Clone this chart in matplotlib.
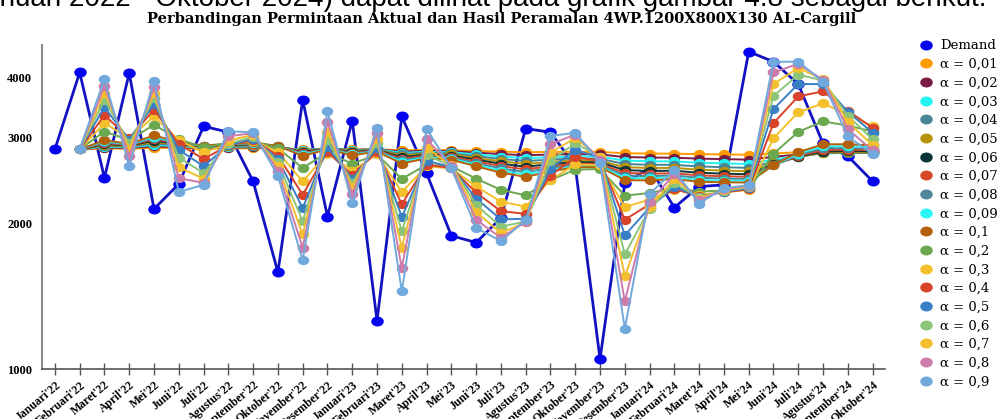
import numpy as np
import matplotlib.pyplot as plt
from matplotlib.path import Path
from matplotlib.lines import Line2D

months = ["Januari'22", "Februari'22", "Maret'22", "April'22", "Mei'22", "Juni'22", "Juli'22",
          "Agustus'22", "September'22", "Oktober'22", "November'22", "Desember'22",
          "Januari'23", "Februari'23", "Maret'23", "April'23", "Mei'23", "Juni'23", "Juli'23",
          "Agustus'23", "September'23", "Oktober'23", "November'23", "Desember'23",
          "Januari'24", "Februari'24", "Maret'24", "April'24", "Mei'24", "Juni'24", "Juli'24",
          "Agustus'24", "September'24", "Oktober'24"]

demand = [2840, 4090, 2480, 4080, 2140, 2410, 3170, 3080, 2440, 1585, 3590, 2065,
          3255, 1258, 3320, 2535, 1885, 1825, 2050, 3135, 3080, 2620, 1050, 2420,
          2600, 2155, 2380, 2400, 4515, 4305, 3870, 2920, 2750, 2440]

# forecast values per alpha (no forecast for the first month)
f_001 = [None, 2840, 2852, 2849, 2861, 2854, 2849, 2853, 2855, 2851, 2838, 2846, 2838, 2842, 2826, 2831, 2828,
         2819, 2809, 2801, 2805, 2807, 2805, 2788, 2784, 2782, 2776, 2772, 2768, 2786, 2801, 2812, 2813, 2812]
f_002 = [None, 2840, 2865, 2857, 2882, 2867, 2858, 2864, 2868, 2860, 2834, 2849, 2834, 2842, 2810, 2821, 2815,
         2796, 2777, 2762, 2770, 2776, 2773, 2738, 2732, 2729, 2718, 2711, 2705, 2741, 2772, 2794, 2797, 2796]
f_003 = [None, 2840, 2877, 2866, 2902, 2879, 2865, 2874, 2880, 2867, 2829, 2852, 2828, 2841, 2793, 2809, 2801,
         2773, 2745, 2724, 2736, 2747, 2743, 2692, 2684, 2681, 2666, 2657, 2649, 2705, 2753, 2787, 2791, 2790]
f_004 = [None, 2840, 2890, 2874, 2922, 2891, 2871, 2883, 2891, 2873, 2822, 2852, 2821, 2838, 2775, 2797, 2786,
         2750, 2713, 2687, 2705, 2720, 2716, 2649, 2640, 2638, 2619, 2609, 2601, 2678, 2743, 2788, 2793, 2791]
f_005 = [None, 2840, 2902, 2881, 2941, 2901, 2877, 2891, 2901, 2878, 2813, 2852, 2813, 2835, 2756, 2784, 2772,
         2727, 2682, 2651, 2675, 2695, 2691, 2609, 2600, 2600, 2578, 2568, 2559, 2657, 2739, 2796, 2802, 2800]
f_006 = [None, 2840, 2915, 2889, 2960, 2911, 2881, 2898, 2909, 2881, 2803, 2851, 2803, 2831, 2736, 2771, 2757,
         2705, 2652, 2616, 2647, 2673, 2670, 2573, 2563, 2566, 2541, 2531, 2523, 2643, 2743, 2810, 2817, 2813]
f_007 = [None, 2840, 2928, 2896, 2979, 2920, 2885, 2905, 2917, 2883, 2793, 2848, 2794, 2826, 2716, 2758, 2743,
         2683, 2623, 2583, 2621, 2653, 2651, 2539, 2531, 2535, 2509, 2500, 2493, 2634, 2751, 2830, 2836, 2830]
f_008 = [None, 2840, 2940, 2903, 2997, 2929, 2887, 2910, 2923, 2885, 2781, 2846, 2783, 2821, 2696, 2746, 2729,
         2661, 2594, 2551, 2598, 2636, 2635, 2508, 2501, 2509, 2481, 2473, 2467, 2631, 2765, 2853, 2858, 2850]
f_009 = [None, 2840, 2952, 2910, 3015, 2937, 2889, 2914, 2929, 2885, 2768, 2842, 2772, 2816, 2676, 2734, 2716,
         2641, 2567, 2521, 2576, 2622, 2621, 2480, 2475, 2486, 2456, 2449, 2445, 2631, 2782, 2880, 2883, 2871]
f_01 = [None, 2840, 2965, 2916, 3033, 2944, 2890, 2918, 2934, 2885, 2755, 2838, 2761, 2810, 2655, 2722, 2703,
        2621, 2542, 2492, 2557, 2609, 2610, 2454, 2451, 2466, 2435, 2429, 2426, 2635, 2802, 2909, 2910, 2894]
f_02 = [None, 2840, 3090, 2968, 3190, 2980, 2866, 2927, 2958, 2854, 2600, 2798, 2652, 2772, 2469, 2640, 2619,
        2472, 2343, 2284, 2454, 2579, 2587, 2280, 2308, 2366, 2324, 2335, 2348, 2782, 3086, 3243, 3178, 3093]
f_03 = [None, 2840, 3215, 2994, 3320, 2966, 2799, 2910, 2961, 2805, 2439, 2784, 2568, 2774, 2320, 2620, 2594,
        2381, 2215, 2165, 2456, 2643, 2636, 2160, 2238, 2347, 2289, 2316, 2342, 2994, 3387, 3532, 3348, 3169]
f_04 = [None, 2840, 3340, 2996, 3430, 2914, 2712, 2895, 2969, 2758, 2289, 2809, 2511, 2809, 2189, 2641, 2599,
        2313, 2118, 2091, 2508, 2737, 2690, 2034, 2188, 2353, 2274, 2316, 2350, 3216, 3652, 3739, 3411, 3147]
f_05 = [None, 2840, 3465, 2972, 3526, 2833, 2622, 2896, 2988, 2714, 2149, 2870, 2467, 2861, 2060, 2690, 2612,
        2249, 2037, 2043, 2589, 2835, 2727, 1889, 2154, 2377, 2266, 2323, 2362, 3438, 3872, 3871, 3395, 3073]
f_06 = [None, 2840, 3590, 2924, 3618, 2731, 2538, 2917, 3015, 2670, 2019, 2962, 2424, 2922, 1924, 2762, 2626,
        2181, 1967, 2017, 2688, 2923, 2741, 1726, 2143, 2417, 2260, 2332, 2373, 3658, 4046, 3940, 3328, 2981]
f_07 = [None, 2840, 3715, 2850, 3711, 2611, 2470, 2960, 3044, 2621, 1896, 3082, 2370, 2990, 1777, 2857, 2632,
        2109, 1910, 2008, 2797, 2995, 2733, 1555, 2160, 2468, 2249, 2341, 2382, 3875, 4176, 3962, 3233, 2895]
f_08 = [None, 2840, 3840, 2752, 3814, 2475, 2423, 3021, 3068, 2566, 1781, 3228, 2298, 3064, 1619, 2980, 2624,
        2033, 1867, 2013, 2911, 3046, 2705, 1381, 2212, 2522, 2228, 2350, 2390, 4090, 4262, 3948, 3126, 2825]
f_09 = [None, 2840, 3965, 2628, 3935, 2319, 2401, 3093, 3081, 2504, 1677, 3399, 2198, 3149, 1447, 3133, 2595,
        1956, 1838, 2029, 3024, 3074, 2665, 1212, 2299, 2570, 2196, 2362, 2396, 4303, 4305, 3913, 3019, 2777]

forecasts = [f_001, f_002, f_003, f_004, f_005, f_006, f_007, f_008, f_009,
             f_01, f_02, f_03, f_04, f_05, f_06, f_07, f_08, f_09]
labels = ["α = 0,01", "α = 0,02", "α = 0,03", "α = 0,04", "α = 0,05", "α = 0,06",
          "α = 0,07", "α = 0,08", "α = 0,09", "α = 0,1", "α = 0,2", "α = 0,3",
          "α = 0,4", "α = 0,5", "α = 0,6", "α = 0,7", "α = 0,8", "α = 0,9"]
colors = ["#FF9A00", "#7A1B45", "#22F2F2", "#4A8596", "#B8920A", "#0B3538",
          "#D7482B", "#4D8799", "#2CF5F5", "#B5600C", "#6BA84F", "#F3C02C",
          "#D8432A", "#3A7FC6", "#8CC57A", "#F4BF2E", "#CC7BAA", "#72A9DD"]

# slightly wide oval markers like the reference
circ = Path.unit_circle()
oval = Path(circ.vertices * [1.3, 1.0], circ.codes)

serif = "Liberation Serif"

fig = plt.figure(figsize=(9.98, 4.19), dpi=100)
ax = fig.add_axes([42 / 998, 1 - 369.3 / 419, 843 / 998, 324.3 / 419])
x = np.arange(len(months))

ax.plot(x, demand, color="#1212C2", lw=2.0, marker=oval, ms=8,
        mfc="#0303F0", mec="#0303F0", zorder=2)
for vals, c in zip(forecasts, colors):
    ax.plot(x, np.array(vals, dtype=float), color=c, lw=1.4, marker=oval, ms=7.3,
            mfc=c, mec=c, zorder=3)

ax.set_yscale("log")
ax.set_ylim(1000, 4660)
ax.set_xlim(-0.52, 33.5)
ax.minorticks_off()
ax.set_yticks([1000, 2000, 3000, 4000])
ax.set_yticklabels(["1000", "2000", "3000", "4000"], fontfamily=serif,
                   fontweight="bold", fontsize=9)
ax.tick_params(axis="y", length=0, pad=7)
ax.set_xticks(x)
ax.set_xticklabels(months, rotation=40, ha="right", rotation_mode="anchor",
                   fontfamily=serif, fontweight="bold", fontsize=8.5)
ax.tick_params(axis="x", direction="inout", length=8, width=1, color="#555555", pad=3)

for s in ["top", "right"]:
    ax.spines[s].set_visible(False)
ax.spines["left"].set_color("#8A8A8A")
ax.spines["left"].set_linewidth(1.5)
ax.spines["bottom"].set_color("#555555")
ax.spines["bottom"].set_linewidth(1.2)

handles = [Line2D([], [], ls="none", marker=oval, ms=8, mfc="#0303F0", mec="#0303F0")]
handles += [Line2D([], [], ls="none", marker=oval, ms=8, mfc=c, mec=c) for c in colors]
fig.legend(handles, ["Demand"] + labels, loc="upper left",
           bbox_to_anchor=(914 / 998, 1 - 34 / 419), frameon=False,
           prop={"family": "DejaVu Serif", "size": 9.5}, labelspacing=0.43,
           handlelength=1.0, handletextpad=0.6, borderaxespad=0)

fig.text(0.503, 1 - 23 / 419, "Perbandingan Permintaan Aktual dan Hasil Peramalan 4WP.1200X800X130 AL-Cargill",
         ha="center", va="baseline", fontfamily="DejaVu Serif", fontweight="bold", fontsize=10.5)
# paragraph line above the chart, cut off by the top edge
fig.text(986 / 998, 1 - 6.5 / 419,
         "(Januari 2022 - Oktober 2024) dapat dilihat pada grafik gambar 4.8 sebagai berikut.",
         ha="right", va="baseline", fontfamily="Liberation Sans", fontsize=20)

fig.savefig("out.png", dpi=100)
